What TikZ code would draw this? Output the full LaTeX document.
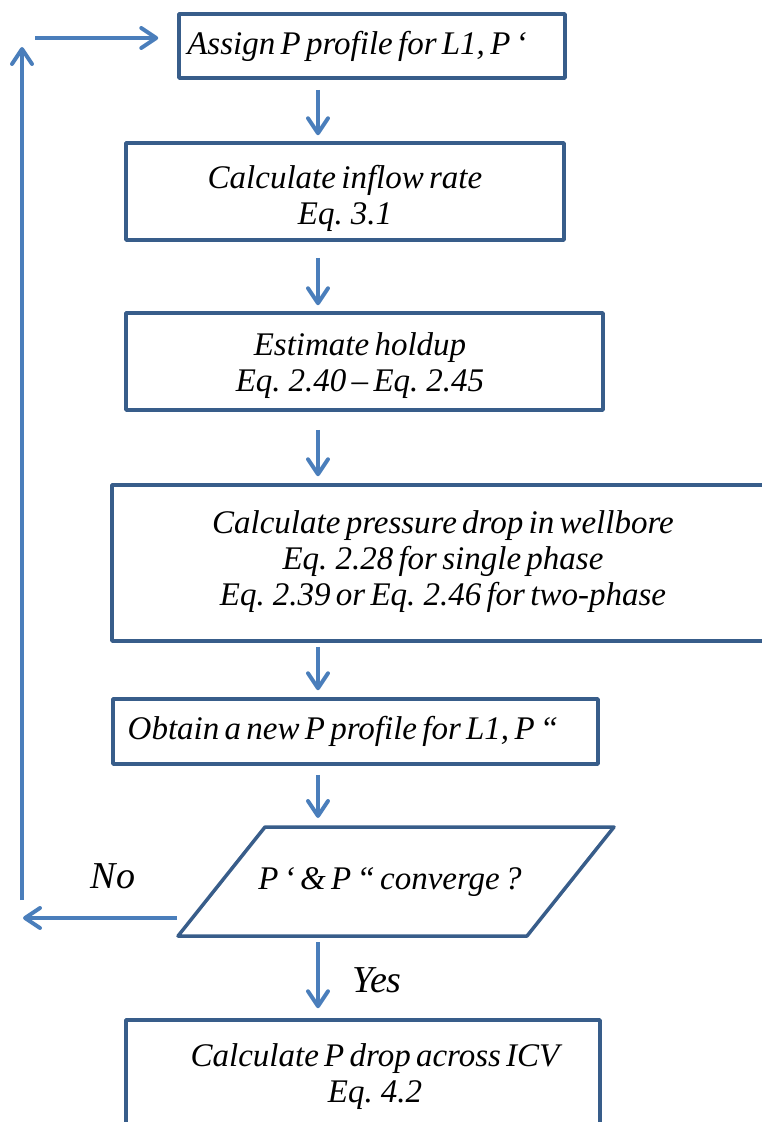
\documentclass[tikz,border=0pt]{standalone}
\usepackage{fontspec}
\setmainfont{Liberation Serif}
\usetikzlibrary{arrows.meta}
\definecolor{boxblue}{HTML}{385D8A}
\definecolor{arrblue}{HTML}{4A7EBB}
\newcommand{\flowfont}{\fontsize{33}{36}\selectfont\itshape\spaceskip=0.16em plus 0.05em\relax}
\begin{document}
\begin{tikzpicture}[x=1pt,y=-1pt,
  box/.style={draw=boxblue, line width=3.5pt, rectangle, inner sep=0pt, line join=round},
  txt/.style={font=\flowfont, align=center, inner sep=0pt},
  lbl/.style={font=\fontsize{38}{40}\selectfont\itshape, inner sep=0pt},
  flow/.style={draw=arrblue, line width=4pt, -{Straight Barb[length=15pt,width=20pt,round]}}]
\useasboundingbox (0,0) rectangle (762,1122);
\clip (0,0) rectangle (762,1122);
% boxes
\node[box, minimum width=386pt, minimum height=64pt] (b1) at (372,46) {};
\node[box, minimum width=438pt, minimum height=97pt] (b2) at (345,191.5) {};
\node[box, minimum width=477pt, minimum height=97pt] (b3) at (364.5,361.5) {};
\node[box, minimum width=662pt, minimum height=156pt] (b4) at (443,563) {};
\node[box, minimum width=485pt, minimum height=65pt] (b5) at (355.5,731.5) {};
\node[box, minimum width=474pt, minimum height=120pt] (b6) at (363,1080) {};
% decision parallelogram
\coordinate (p1) at (265,827);
\coordinate (p2) at (614,827);
\coordinate (p3) at (527,936);
\coordinate (p4) at (178,936);
\draw[draw=boxblue, line width=3.5pt, line join=round] (p1) -- (p2) -- (p3) -- (p4) -- cycle;
% texts
\node[txt] (t1) at (357,46) {Assign P profile for L1, P ‘};
\node[txt] (t2) at (345,198) {Calculate inflow rate\\Eq. 3.1};
\node[txt] (t3) at (360,366) {Estimate holdup\\Eq. 2.40 – Eq. 2.45};
\node[txt] (t4) at (443,562) {Calculate pressure drop in wellbore\\Eq. 2.28 for single phase\\Eq. 2.39 or Eq. 2.46 for two-phase};
\node[txt] (t5) at (343,731) {Obtain a new P profile for L1, P “};
\node[txt] (dec) at (390,882) {P ‘ \& P “ converge ?};
\node[txt] (t6) at (375,1077) {Calculate P drop across ICV\\Eq. 4.2};
\node[lbl] (no) at (113,876) {No};
\node[lbl] (yes) at (377,980) {Yes};
% arrow column
\coordinate (ax) at (318,0);
\draw[flow, shorten <=10pt, shorten >=6pt] (b1.south -| ax) -- (b2.north -| ax);
\draw[flow, shorten <=16pt, shorten >=6pt] (b2.south -| ax) -- (b3.north -| ax);
\draw[flow, shorten <=18pt, shorten >=7pt] (b3.south -| ax) -- (b4.north -| ax);
\draw[flow, shorten <=4pt, shorten >=7pt] (b4.south -| ax) -- (b5.north -| ax);
\draw[flow, shorten <=9pt, shorten >=9pt] (b5.south -| ax) -- (p1 -| ax);
\draw[flow, shorten <=6pt, shorten >=10pt] (p4 -| ax) -- (b6.north -| ax);
% loop back
\coordinate (nostart) at (177,918);
\coordinate (noend) at (23,918);
\coordinate (upstart) at (22,900);
\coordinate (upend) at (22,47);
\coordinate (rstart) at (35,38);
\draw[flow] (nostart) -- (noend);
\draw[flow] (upstart) -- (upend);
\draw[flow, shorten >=19pt] (rstart) -- (b1.west |- rstart);
\end{tikzpicture}
\end{document}
